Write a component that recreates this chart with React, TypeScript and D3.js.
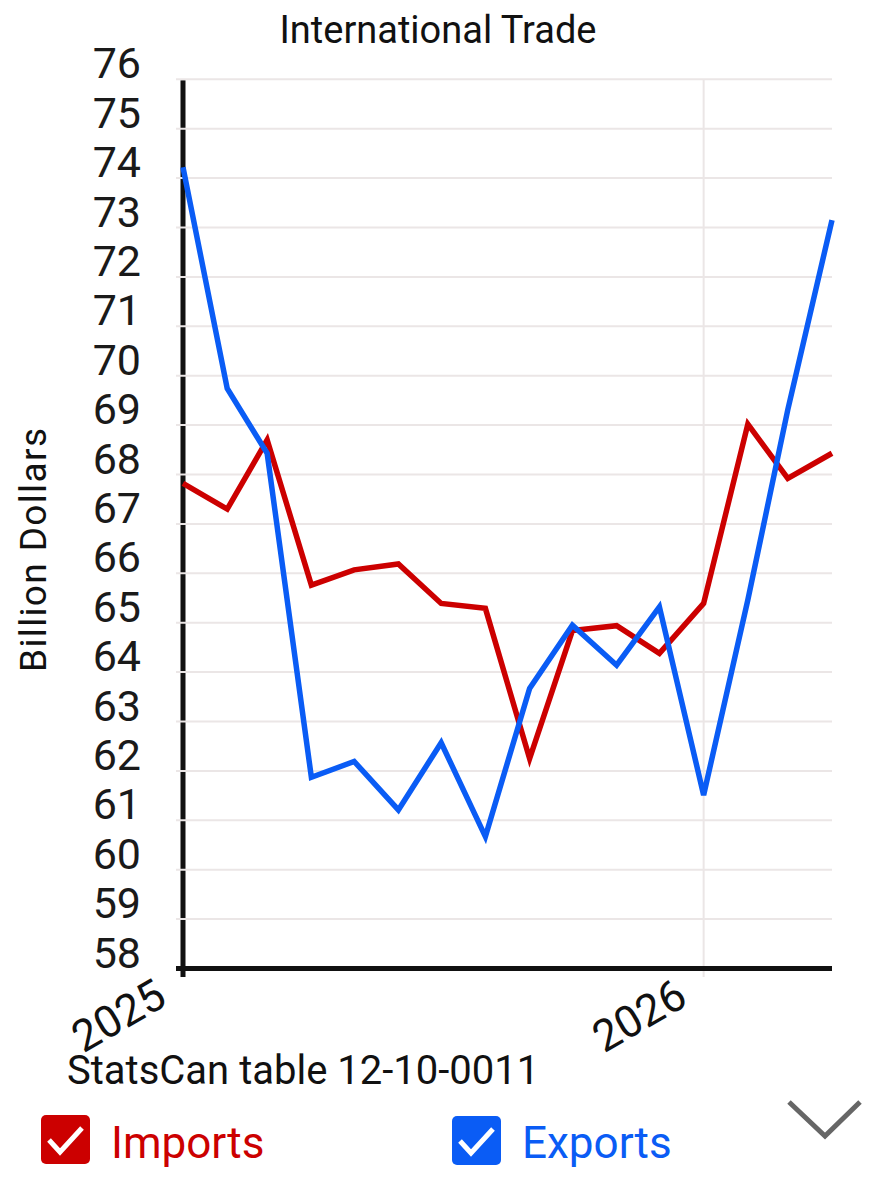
import React from "react";
import * as d3 from "d3";

const months: string[] = [
  "2025-01", "2025-02", "2025-03", "2025-04", "2025-05", "2025-06", "2025-07", "2025-08",
  "2025-09", "2025-10", "2025-11", "2025-12", "2026-01", "2026-02", "2026-03", "2026-04",
];
const imports: number[] = [67.82, 67.3, 68.7, 65.76, 66.07, 66.19, 65.39, 65.29, 62.25, 64.84, 64.94, 64.38, 65.39, 69.02, 67.92, 68.43];
const exportsData: number[] = [74.22, 69.74, 68.43, 61.87, 62.19, 61.21, 62.57, 60.67, 63.67, 64.95, 64.14, 65.32, 61.51, 65.46, 69.31, 73.15];
const yTicks: number[] = d3.range(58, 77, 1);
const yearTicks: string[] = ["2025", "2026"];

const W = 877;
const H = 1200;
const RED = "#cc0000";
const BLUE = "#0a5cf5";
const GRID = "#ebe6e6";

export default function App() {
  const parse = d3.timeParse("%Y-%m");
  const dates = months.map((m) => parse(m) as Date);
  const x = d3.scaleTime().domain([dates[0], dates[dates.length - 1]]).range([183, 832]);
  const y = d3.scaleLinear().domain([58, 76]).range([968.5, 79.3]);
  const line = d3
    .line<number>()
    .x((_, i) => x(dates[i]))
    .y((d) => y(d));
  const yearDates = yearTicks.map((t) => d3.timeParse("%Y")(t) as Date);
  const font = "Roboto, 'Noto Sans', sans-serif";

  return (
    <div style={{ position: "absolute", left: 0, top: 0 }}>
      <svg width={W} height={H} style={{ display: "block", background: "#fff" }} fontFamily={font}>
        <text x={438} y={43} textAnchor="middle" fontSize={38} fill="#111">
          International Trade
        </text>
        {/* vertical grid */}
        {yearDates.map((d, i) => (
          <line key={"vg" + i} x1={x(d)} x2={x(d)} y1={y(76)} y2={977} stroke={GRID} strokeWidth={2} />
        ))}
        {/* y axis line */}
        <line x1={183} x2={183} y1={y(76) + 1} y2={977} stroke="#111" strokeWidth={5} />
        {/* horizontal grid */}
        {yTicks
          .filter((t) => t > 58)
          .map((t) => (
            <line key={"hg" + t} x1={176} x2={832} y1={y(t)} y2={y(t)} stroke={GRID} strokeWidth={2} />
          ))}
        {/* x axis line */}
        <line x1={176} x2={832} y1={y(58)} y2={y(58)} stroke="#111" strokeWidth={5} />
        {/* y tick labels */}
        {yTicks.map((t) => (
          <text key={"yl" + t} x={141} y={y(t) - 1} textAnchor="end" fontSize={43} fill="#1a1a1a">
            {t}
          </text>
        ))}
        {/* x tick labels */}
        {yearDates.map((d, i) => (
          <text
            key={"xl" + i}
            transform={`translate(${x(d) - 14},${1004}) rotate(-30)`}
            textAnchor="end"
            fontSize={44}
            fill="#111"
          >
            {yearTicks[i]}
          </text>
        ))}
        {/* y axis title */}
        <text
          transform={`translate(46,${550}) rotate(-90)`}
          textAnchor="middle"
          fontSize={37}
          fill="#111"
          textLength={244}
          lengthAdjust="spacing"
        >
          Billion Dollars
        </text>
        {/* series */}
        <path d={line(imports) || ""} fill="none" stroke={RED} strokeWidth={5.5} />
        <path d={line(exportsData) || ""} fill="none" stroke={BLUE} strokeWidth={5.5} />
        {/* source */}
        <text x={67} y={1084} fontSize={40} fill="#111">
          StatsCan table 12-10-0011
        </text>
        {/* legend */}
        <rect x={41} y={1115} width={49} height={49} rx={5} fill={RED} />
        <polyline points="49,1140 60,1152 82,1128" fill="none" stroke="#fff" strokeWidth={5} />
        <text x={111} y={1158} fontSize={44} fill={RED}>
          Imports
        </text>
        <rect x={452} y={1116} width={49} height={49} rx={5} fill={BLUE} />
        <polyline points="460,1141 471,1153 493,1129" fill="none" stroke="#fff" strokeWidth={5} />
        <text x={522} y={1158} fontSize={44} fill={BLUE}>
          Exports
        </text>
        {/* chevron */}
        <polyline points="789,1102 825,1136 860,1102" fill="none" stroke="#666" strokeWidth={5} />
      </svg>
    </div>
  );
}
